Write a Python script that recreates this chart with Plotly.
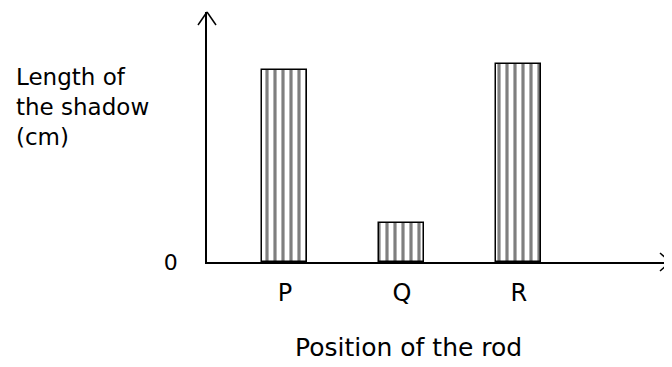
import plotly.graph_objects as go

positions = ["P", "Q", "R"]
shadow_length = [4.92, 1.0, 5.07]

# the page body adds an 8px margin, so the figure is drawn 8px smaller
# and every reference-pixel coordinate below is in window pixels
page_margin = 8
W, H = 672 - page_margin, 367 - page_margin
left, top, bottom = 207 - page_margin, 12 - page_margin, 105
plot_w = W - left
plot_h = H - top - bottom


def px(x):
    return (x - page_margin - left) / plot_w


def py(y):
    return (H - bottom - (y - page_margin)) / plot_h


font = "DejaVu Sans"

fig = go.Figure(
    go.Bar(
        x=positions,
        y=shadow_length,
        width=0.385,
        marker=dict(
            color="white",
            line=dict(color="black", width=1.5),
            pattern=dict(shape="|", size=8, solidity=0.4, fgcolor="black", bgcolor="white"),
        ),
        showlegend=False,
    )
)

# open chevron arrow heads on both axes
arrow = dict(type="line", xref="paper", yref="paper", line=dict(color="black", width=1.5))
fig.add_shape(x0=px(207), y0=py(12), x1=px(198), y1=py(25), **arrow)
fig.add_shape(x0=px(207), y0=py(12), x1=px(216), y1=py(25), **arrow)
fig.add_shape(x0=px(670), y0=py(262), x1=px(660), y1=py(253), **arrow)
fig.add_shape(x0=px(670), y0=py(262), x1=px(660), y1=py(271), **arrow)

fig.add_annotation(
    text="Length of<br>the shadow<br>(cm)",
    xref="paper", yref="paper", x=px(14), y=py(62),
    xanchor="left", yanchor="top", align="left", showarrow=False,
    font=dict(family=font, size=23, color="black"),
)
fig.add_annotation(
    text="Position of the rod",
    xref="paper", yref="paper", x=px(408), y=py(348),
    xanchor="center", yanchor="middle", showarrow=False,
    font=dict(family=font, size=25, color="black"),
)

fig.update_layout(
    width=W,
    height=H,
    margin=dict(l=left, r=0, t=top, b=bottom),
    plot_bgcolor="white",
    paper_bgcolor="white",
    bargap=0,
    xaxis=dict(
        range=[-0.667, 3.31],
        showline=True, linecolor="black", linewidth=1.5,
        showgrid=False, zeroline=False, ticks="",
        ticklabelstandoff=8,
        tickfont=dict(family=font, size=24, color="black"),
        fixedrange=True,
    ),
    yaxis=dict(
        range=[0, 6.4],
        showline=True, linecolor="black", linewidth=1.5,
        showgrid=False, zeroline=False, ticks="",
        tickvals=[0], ticktext=["0"],
        ticklabelstandoff=23,
        tickfont=dict(family=font, size=22, color="black"),
        fixedrange=True,
    ),
)

fig.write_html("out.html")
